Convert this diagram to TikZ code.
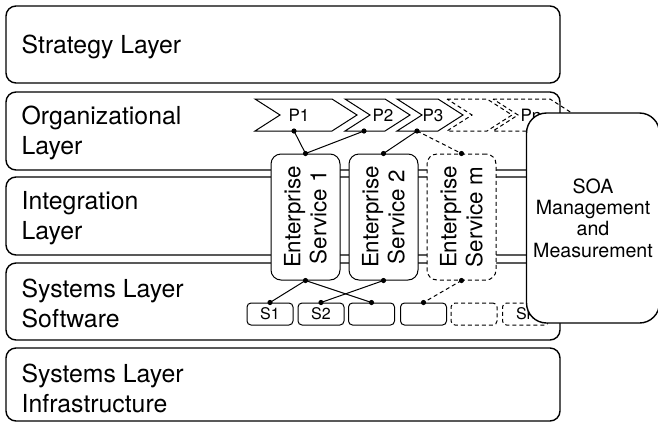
\documentclass[tikz,border=0pt]{standalone}
\usepackage{fontspec}
\setmainfont{TeX Gyre Heros}

\begin{document}
\begin{tikzpicture}[x=0.5pt, y=-0.5pt,
  layer/.style={draw, rounded corners=5pt, line width=0.7pt, minimum width=277pt, inner sep=0pt},
  layertext/.style={anchor=west, align=left, inner sep=0pt, font=\fontsize{12.4}{15}\selectfont},
  service/.style={draw, fill=white, rounded corners=5pt, line width=0.5pt, minimum width=34.5pt, minimum height=63pt, inner sep=0pt},
  servicetext/.style={rotate=90, align=center, inner sep=0pt, font=\fontsize{11.2}{13}\selectfont},
  process/.style={draw, line width=0.5pt, line join=miter},
  ptext/.style={inner sep=0pt, font=\fontsize{8.5}{9}\selectfont},
  system/.style={draw, rounded corners=2pt, line width=0.5pt, minimum width=23pt, minimum height=11pt, inner sep=0pt, font=\fontsize{8}{9}\selectfont},
  future/.style={dash pattern=on 2pt off 1.5pt},
  conn/.style={line width=0.5pt},
  soa/.style={draw, fill=white, rounded corners=10pt, line width=0.7pt, minimum width=64pt, minimum height=105pt, align=center, font=\fontsize{9.8}{10.7}\selectfont}
]
\useasboundingbox (0,0) rectangle (658,424);

% layers
\node[layer, minimum height=38.5pt] (strategy) at (283,44.5) {};
\node[layer, minimum height=39pt] (org) at (283,131) {};
\node[layer, minimum height=39pt] (integ) at (283,216) {};
\node[layer, minimum height=38.5pt] (soft) at (283,301.5) {};
\node[layer, minimum height=36.5pt] (infra) at (283,384.5) {};

\node[layertext] (strategy-t) at ([xshift=8pt,yshift=-1pt]strategy.west) {Strategy Layer};
\node[layertext] (org-t) at ([xshift=8pt,yshift=-1pt]org.west) {Organizational\\Layer};
\node[layertext] (integ-t) at ([xshift=8pt,yshift=-1pt]integ.west) {Integration\\Layer};
\node[layertext] (soft-t) at ([xshift=8pt,yshift=-1pt]soft.west) {Systems Layer\\Software};
\node[layertext] (infra-t) at ([xshift=8pt,yshift=-2pt]infra.west) {Systems Layer\\Infrastructure};

% processes
\draw[process] (255,99) -- ++(77,0) -- ++(25,16) -- ++(-25,16) -- ++(-77,0) -- ++(25,-16) -- cycle;
\draw[process] (345,99) -- ++(40,0) -- ++(25,16) -- ++(-25,16) -- ++(-40,0) -- ++(25,-16) -- cycle;
\draw[process] (397,99) -- ++(41,0) -- ++(25,16) -- ++(-25,16) -- ++(-41,0) -- ++(25,-16) -- cycle;
\draw[process, future] (447,99) -- ++(40,0) -- ++(25,16) -- ++(-25,16) -- ++(-40,0) -- ++(25,-16) -- cycle;
\draw[process, future] (493,99) -- ++(57,0) -- ++(25,16) -- ++(-25,16) -- ++(-57,0) -- ++(25,-16) -- cycle;
\node[ptext] (p1) at (299,115) {P1};
\node[ptext] (p2) at (383,115) {P2};
\node[ptext] (p3) at (433,115) {P3};
\node[ptext] (pn) at (531,115) {Pn};

\coordinate (p1-out) at (294,131);
\coordinate (p2-out) at (364,131);
\coordinate (p3-out) at (417,131);

% enterprise services
\node[service] (es1) at (305.5,217) {};
\node[service] (es2) at (383.5,217) {};
\node[service, future] (esm) at (461.5,217) {};
\node[servicetext] (es1-t) at (es1) {Enterprise\\Service 1};
\node[servicetext] (es2-t) at (es2) {Enterprise\\Service 2};
\node[servicetext] (esm-t) at (esm) {Enterprise\\Service m};

% systems
\node[system] (s1) at (270,314) {S1};
\node[system] (s2) at (321,314) {S2};
\node[system] (s3) at (371.5,314) {};
\node[system] (s4) at (423.5,314) {};
\node[system, future] (s5) at (474,314) {};
\node[system, future] (sk) at (525.5,314) {Sk};

% connections
\draw[conn] (p1-out) -- (es1.north);
\draw[conn] (p2-out) -- (es1.north);
\draw[conn] (p3-out) -- (es2.north);
\draw[conn, future] (p3-out) -- (esm.north);
\draw[conn] (es1.south) -- (s1.north);
\draw[conn] (es1.south) -- (s3.north);
\draw[conn] (es2.south) -- (s2.north);
\draw[conn, future] (esm.south) -- (s4.north);

\foreach \p in {p1-out, p2-out, p3-out, es1.north, es2.north, esm.north,
                es1.south, es2.south, esm.south, s1.north, s2.north, s3.north, s4.north}
  \fill (\p) circle[radius=1.3pt];

% management
\node[soa] (soa) at (593,218) {SOA\\Management\\and\\Measurement};
\end{tikzpicture}
\end{document}
